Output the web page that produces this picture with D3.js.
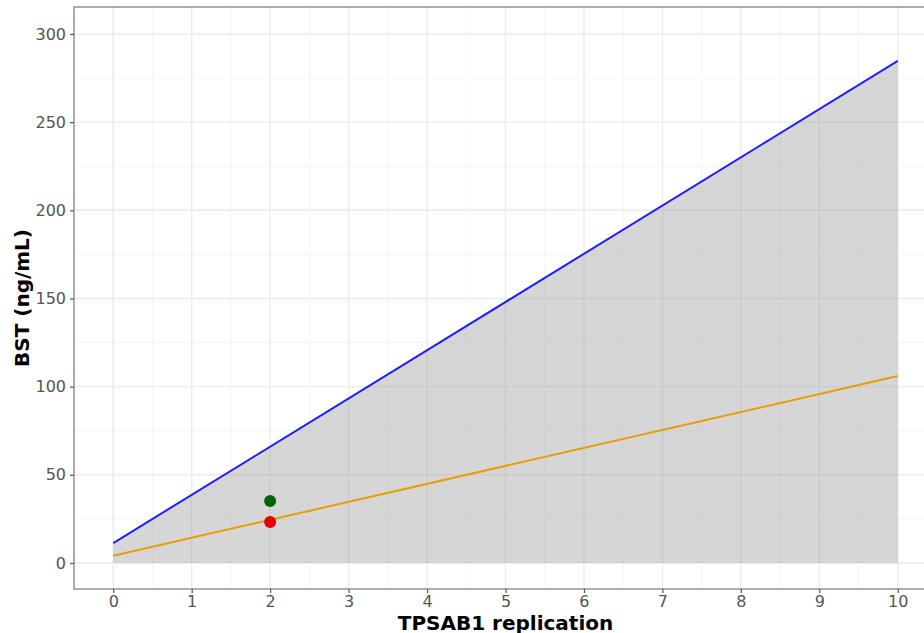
<!DOCTYPE html>
<html>
<head>
<meta charset="utf-8">
<script src="https://cdn.jsdelivr.net/npm/d3@7"></script>
<style>
  body { margin: 0; background: #fff; overflow: hidden; }
  svg { display: block; font-family: "DejaVu Sans", sans-serif; }
</style>
</head>
<body>
<div id="chart"></div>
<script>
// Data
const xLine = [0, 10];
const upperLine = [11.3, 284.7];   // blue line, also top of the ribbon
const fitLine = [4.1, 106];        // orange line
const pointX = [2, 2];
const pointY = [35.2, 23.3];
const pointColors = ["#006400", "#e60000"];
const xTicks = [0, 1, 2, 3, 4, 5, 6, 7, 8, 9, 10];
const yTicks = [0, 50, 100, 150, 200, 250, 300];

// Panel spans past the right edge of the window, like the original
const panel = { left: 74, top: 7, right: 937, bottom: 589 };

const svg = d3.select("#chart")
    .append("svg")
    .attr("width", 924)
    .attr("height", 633);

const xScale = d3.scaleLinear()
    .domain([-0.5, 10.5])
    .range([panel.left, panel.right]);

const yScale = d3.scaleLinear()
    .domain([-14.75, 315.3])
    .range([panel.bottom, panel.top]);

// Grid lines
const g = svg.append("g");
const minorX = d3.range(-0.5, 10.6, 1);
const minorY = d3.range(25, 316, 50);

g.selectAll(".minorx").data(minorX).enter().append("line")
    .attr("x1", d => xScale(d)).attr("x2", d => xScale(d))
    .attr("y1", panel.top).attr("y2", panel.bottom)
    .attr("stroke", "#f2f2f2").attr("stroke-width", 0.8);
g.selectAll(".minory").data(minorY).enter().append("line")
    .attr("y1", d => yScale(d)).attr("y2", d => yScale(d))
    .attr("x1", panel.left).attr("x2", panel.right)
    .attr("stroke", "#f2f2f2").attr("stroke-width", 0.8);
g.selectAll(".majorx").data(xTicks).enter().append("line")
    .attr("x1", d => xScale(d)).attr("x2", d => xScale(d))
    .attr("y1", panel.top).attr("y2", panel.bottom)
    .attr("stroke", "#ebebeb").attr("stroke-width", 1.4);
g.selectAll(".majory").data(yTicks).enter().append("line")
    .attr("y1", d => yScale(d)).attr("y2", d => yScale(d))
    .attr("x1", panel.left).attr("x2", panel.right)
    .attr("stroke", "#ebebeb").attr("stroke-width", 1.4);

// Ribbon from 0 up to the blue line
const area = d3.area()
    .x((d, i) => xScale(xLine[i]))
    .y0(yScale(0))
    .y1(d => yScale(d));
svg.append("path")
    .datum(upperLine)
    .attr("d", area)
    .attr("fill", "#999999")
    .attr("fill-opacity", 0.4);

// Lines
const line = d3.line()
    .x((d, i) => xScale(xLine[i]))
    .y(d => yScale(d));
svg.append("path")
    .datum(upperLine)
    .attr("d", line)
    .attr("fill", "none")
    .attr("stroke", "#2020f0")
    .attr("stroke-width", 2);
svg.append("path")
    .datum(fitLine)
    .attr("d", line)
    .attr("fill", "none")
    .attr("stroke", "#e69f00")
    .attr("stroke-width", 2);

// Points
svg.selectAll(".pt").data(pointX).enter().append("circle")
    .attr("cx", d => xScale(d))
    .attr("cy", (d, i) => yScale(pointY[i]))
    .attr("r", 6)
    .attr("fill", (d, i) => pointColors[i]);

// Panel border
svg.append("rect")
    .attr("x", panel.left).attr("y", panel.top)
    .attr("width", panel.right - panel.left)
    .attr("height", panel.bottom - panel.top)
    .attr("fill", "none")
    .attr("stroke", "#8c8c8c")
    .attr("stroke-width", 1.4);

// Axes
const xAxis = svg.append("g")
    .attr("transform", "translate(0," + panel.bottom + ")")
    .call(d3.axisBottom(xScale).tickValues(xTicks).tickSize(4).tickPadding(3));
const yAxis = svg.append("g")
    .attr("transform", "translate(" + panel.left + ",0)")
    .call(d3.axisLeft(yScale).tickValues(yTicks).tickSize(4).tickPadding(4));

[xAxis, yAxis].forEach(a => {
    a.select(".domain").remove();
    a.selectAll(".tick line").attr("stroke", "#555").attr("stroke-width", 1.2);
    a.selectAll(".tick text")
        .attr("fill", "#555555")
        .style("font-size", "16px")
        .style("font-family", "DejaVu Sans, sans-serif");
});

// Axis titles (the x title sits at the bottom edge, as in the original)
svg.append("text")
    .attr("x", (panel.left + panel.right) / 2)
    .attr("y", 630)
    .attr("text-anchor", "middle")
    .style("font-size", "20px")
    .style("font-weight", "bold")
    .attr("fill", "#000")
    .text("TPSAB1 replication");

svg.append("text")
    .attr("transform", "rotate(-90)")
    .attr("x", -(panel.top + panel.bottom) / 2)
    .attr("y", 29)
    .attr("text-anchor", "middle")
    .style("font-size", "20px")
    .style("font-weight", "bold")
    .attr("fill", "#000")
    .text("BST (ng/mL)");
</script>
</body>
</html>
